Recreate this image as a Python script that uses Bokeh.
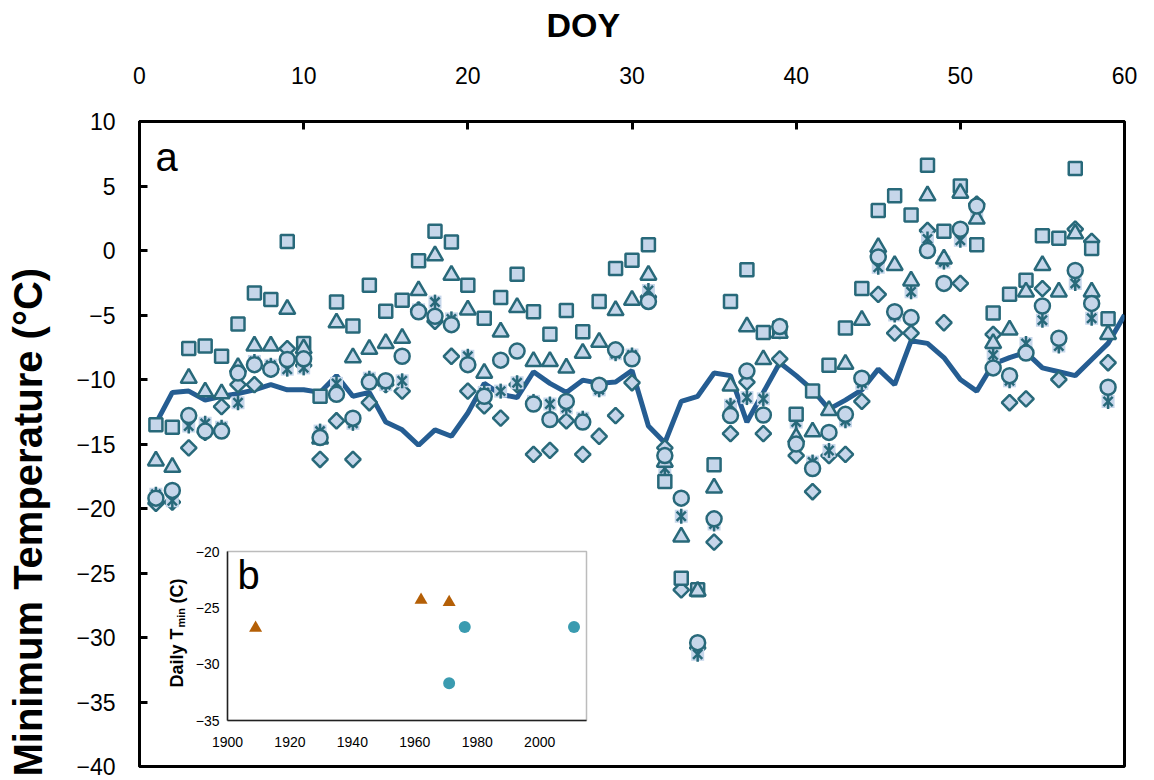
import math
from bokeh.plotting import figure
from bokeh.models import (Range1d, LinearAxis, FixedTicker, BoxAnnotation, Label, Title)
from bokeh.embed import file_html
from bokeh.resources import INLINE

# ---------------- data ----------------
doy = list(range(1, 60))
line_doy = list(range(1, 61))

mean_tmin = [-13.4, -11.0, -10.9, -11.6, -11.3, -11.1, -10.8, -10.4, -10.8, -10.8,
             -11.0, -9.7, -11.3, -11.0, -13.3, -13.9, -15.1, -13.9, -14.4, -12.6,
             -10.3, -11.15, -11.4, -9.4, -10.3, -11.0, -10.05, -10.3, -10.2, -9.3,
             -13.6, -14.9, -11.7, -11.3, -9.5, -9.7, -13.3, -11.0, -8.7, -9.7,
             -10.8, -12.3, -11.6, -10.8, -9.2, -10.4, -7.0, -7.2, -8.3, -10.0,
             -10.9, -8.8, -8.3, -7.9, -9.1, -9.4, -9.7, -8.45, -7.2, -5.0]

square_vals = [-13.5, -13.7, -7.6, -7.4, -8.2, -5.7, -3.3, -3.8, 0.7, -7.2,
               -11.3, -4.0, -5.85, -2.7, -4.7, -3.85, -0.8, 1.5, 0.65, -2.7,
               -5.25, -3.65, -1.85, -4.75, -6.5, -4.65, -6.3, -3.95, -1.4, -0.75,
               0.45, -17.9, -25.4, -26.3, -16.6, -3.95, -1.5, -6.35, -6.0, -12.7,
               -10.9, -8.9, -6.0, -2.95, 3.1, 4.25, 2.75, 6.6, 1.5, 5.0,
               0.45, -4.85, -3.4, -2.3, 1.15, 0.95, 6.35, 0.15, -5.3]

triangle_vals = [-16.3, -16.8, -9.9, -10.95, -11.1, -9.05, -7.4, -7.4, -4.55, -7.6,
                 -14.6, -5.6, -8.3, -7.65, -7.2, -6.8, -3.1, -0.4, -1.9, -4.6,
                 -9.5, -6.3, -4.4, -8.6, -8.6, -9.1, -7.95, -7.1, -4.65, -3.85,
                 -1.9, -16.4, -22.2, -26.4, -18.4, -10.5, -5.9, -8.45, -6.4, -14.5,
                 -14.05, -12.4, -8.8, -5.4, 0.25, -1.15, -2.35, 4.25, -0.65, 4.45,
                 2.45, -7.2, -6.15, -3.2, -1.15, -3.2, 1.3, -3.2, -6.5]

circle_vals = [-19.2, -18.6, -12.8, -14.0, -14.0, -9.5, -8.85, -9.2, -8.45, -8.4,
               -14.5, -11.15, -13.0, -10.2, -10.1, -8.2, -4.75, -5.1, -5.75, -8.85,
               -11.3, -8.5, -7.8, -11.9, -13.1, -11.7, -13.3, -10.45, -7.7, -8.4,
               -3.95, -15.9, -19.2, -30.4, -20.8, -12.8, -9.35, -12.75, -5.9, -15.0,
               -16.9, -14.1, -12.7, -9.9, -0.5, -4.75, -5.2, 0.0, -2.55, 1.65,
               3.45, -9.1, -9.7, -7.95, -4.3, -6.8, -1.55, -4.1, -10.6]

asterisk_vals = [-18.9, -19.4, -13.6, -13.4, -13.7, -11.8, -8.6, -8.9, -9.2, -9.1,
                 -14.0, -10.3, -13.4, -9.9, -10.4, -10.1, -4.6, -4.0, -5.3, -8.2,
                 -11.0, -10.9, -10.25, -11.7, -11.9, -12.2, -13.0, -10.8, -8.0, -8.1,
                 -3.1, -16.9, -20.6, -31.3, -21.2, -12.0, -11.4, -11.5, -6.3, -13.3,
                 -16.4, -15.5, -13.2, -10.3, -1.3, -5.0, -3.2, 0.9, -0.9, 0.8,
                 2.9, -8.1, -10.1, -7.2, -5.4, -7.4, -2.55, -5.25, -11.7]

diamond_vals = [-19.6, -19.5, -15.3, -14.1, -12.1, -10.4, -10.4, -9.2, -7.6, -8.9,
                -16.2, -13.2, -16.2, -11.8, -10.4, -10.9, -4.6, -5.5, -8.2, -10.9,
                -12.05, -13.0, -10.4, -15.8, -15.5, -13.2, -15.8, -14.4, -12.8, -10.25,
                -3.6, -15.3, -26.3, -30.8, -22.6, -14.2, -10.2, -14.2, -8.4, -15.9,
                -18.7, -15.9, -15.8, -11.7, -3.4, -6.4, -6.4, 1.55, -5.6, -2.55,
                3.6, -6.5, -11.8, -11.5, -2.95, -10.0, 1.65, 0.7, -8.7]

x_ticks = [0, 10, 20, 30, 40, 50, 60]
y_ticks = [-40, -35, -30, -25, -20, -15, -10, -5, 0, 5, 10]

# inset (b)
b_tri_years = [1909, 1962, 1971]
b_tri_vals = [-26.8, -24.3, -24.5]
b_circ_years = [1976, 1971, 2011]
b_circ_vals = [-26.7, -31.7, -26.7]
b_x_ticks = [1900, 1920, 1940, 1960, 1980, 2000]
b_y_ticks = [-35, -30, -25, -20]

# ---------------- layout helpers (pixel placement of frame & annotations) ----------------
W, H = 1154, 780
FR_L, FR_R, FR_T, FR_B = 139, 1124, 121, 766
X0, X1, Y0, Y1 = 0, 60, -40, 10


def px2x(px):
    return X0 + (px - FR_L) / (FR_R - FR_L) * (X1 - X0)


def py2y(py):
    return Y1 - (py - FR_T) / (FR_B - FR_T) * (Y1 - Y0)


FONT = "Liberation Sans"
FILL = "#c6d6ea"
EDGE = "#28697a"
LINE = "#255d92"

p = figure(width=W, height=H, x_range=Range1d(X0, X1), y_range=Range1d(Y0, Y1),
           x_axis_location="above", output_backend="svg", toolbar_location=None,
           min_border_left=FR_L, min_border_right=W - FR_R, min_border_top=FR_T,
           min_border_bottom=H - FR_B, background_fill_color="white",
           border_fill_color="white")
p.xgrid.visible = False
p.ygrid.visible = False
p.outline_line_color = "black"
p.outline_line_width = 3

for ax, ticks in ((p.xaxis[0], x_ticks), (p.yaxis[0], y_ticks)):
    ax.ticker = FixedTicker(ticks=ticks)
    ax.major_tick_in = 8
    ax.major_tick_out = 0
    ax.minor_tick_line_color = None
    ax.major_tick_line_width = 3
    ax.axis_line_width = 3
    ax.major_label_text_font = FONT
    ax.major_label_text_font_size = "23px"
    ax.major_label_text_color = "black"
    # blank spacer label: pushes the bold titles outward
    ax.axis_label = " "
    ax.axis_label_text_font_size = "1px"
p.xaxis[0].major_label_standoff = 38
p.xaxis[0].axis_label_standoff = 15
p.yaxis[0].major_label_standoff = 24
p.yaxis[0].axis_label_standoff = 18

# axis titles (placed off-centre, as in the reference)
p.add_layout(Title(text="DOY", align="left", offset=546 - FR_L, text_font=FONT,
                   text_font_style="bold", text_font_size="34px", text_color="black",
                   standoff=2), "above")
p.add_layout(Title(text="Minimum Temperature (°C)", align="left", offset=FR_B - 776,
                   text_font=FONT, text_font_style="bold", text_font_size="40px",
                   text_color="black", standoff=4), "left")

# main series
p.line(line_doy, mean_tmin, line_color=LINE, line_width=5)
p.scatter(doy, diamond_vals, marker="square", angle=math.pi / 4, size=11,
          fill_color=FILL, line_color=EDGE, line_width=2.5)
p.scatter(doy, asterisk_vals, marker="square", size=13, fill_color=FILL,
          line_color=None)
p.scatter(doy, asterisk_vals, marker="x", size=13, line_color=EDGE, line_width=2.5)
p.scatter(doy, asterisk_vals, marker="dash", angle=math.pi / 2, size=15,
          line_color=EDGE, line_width=2.5)
p.scatter(doy, square_vals, marker="square", size=13, fill_color=FILL,
          line_color=EDGE, line_width=2.5)
p.scatter(doy, triangle_vals, marker="triangle", size=16, fill_color=FILL,
          line_color=EDGE, line_width=2.5)
p.scatter(doy, circle_vals, marker="circle", size=15, fill_color=FILL,
          line_color=EDGE, line_width=2.5)

p.add_layout(Label(x=px2x(155), y=py2y(156), text="a", text_font=FONT,
                   text_font_size="40px", text_color="black",
                   text_baseline="alphabetic"))

# ---------------- inset (b) placed inside the main frame ----------------
box_x = (px2x(227), px2x(586))
box_y = (py2y(720), py2y(551))
bx_rng = (1900, 2015)
by_rng = (-35, -20)
sx = (bx_rng[1] - bx_rng[0]) / (box_x[1] - box_x[0])
sy = (by_rng[1] - by_rng[0]) / (box_y[1] - box_y[0])
p.extra_x_ranges = {"ix": Range1d(bx_rng[0] - (box_x[0] - X0) * sx,
                                  bx_rng[1] + (X1 - box_x[1]) * sx)}
p.extra_y_ranges = {"iy": Range1d(by_rng[0] - (box_y[0] - Y0) * sy,
                                  by_rng[1] + (Y1 - box_y[1]) * sy)}


def py2iy(py):
    return by_rng[1] - (py - 551) / (720 - 551) * (by_rng[1] - by_rng[0])


def px2ix(px):
    return bx_rng[0] + (px - 227) / (586 - 227) * (bx_rng[1] - bx_rng[0])


p.add_layout(BoxAnnotation(left=bx_rng[0], right=bx_rng[1], bottom=by_rng[0], top=by_rng[1],
                           x_range_name="ix", y_range_name="iy",
                           fill_color=None, line_color="#222222", line_width=1.5))

bax = LinearAxis(x_range_name="ix", y_range_name="iy", fixed_location=by_rng[0],
                 bounds=bx_rng, ticker=FixedTicker(ticks=b_x_ticks))
lax = LinearAxis(x_range_name="ix", y_range_name="iy", fixed_location=bx_rng[0],
                 bounds=by_rng, ticker=FixedTicker(ticks=b_y_ticks))
for ax in (bax, lax):
    ax.major_tick_in = 0
    ax.major_tick_out = 0
    ax.minor_tick_line_color = None
    ax.axis_line_width = 1.5
    ax.axis_line_color = "#222222"
    ax.major_label_text_font = FONT
    ax.major_label_text_font_size = "14px"
    ax.major_label_text_color = "black"
bax.major_label_standoff = 16
lax.major_label_standoff = 8
p.add_layout(bax, "below")
p.add_layout(lax, "left")

p.scatter(b_tri_years, b_tri_vals, x_range_name="ix", y_range_name="iy",
          marker="triangle", size=13, fill_color="#b45f06", line_color=None)
p.scatter(b_circ_years, b_circ_vals, x_range_name="ix", y_range_name="iy",
          marker="circle", size=12, fill_color="#3a9bb0", line_color=None)

lab_kw = dict(x_range_name="ix", y_range_name="iy", angle=math.pi / 2,
              text_font=FONT, text_font_style="bold", text_color="black",
              text_align="left", text_baseline="middle")
p.add_layout(Label(x=px2ix(176), y=py2iy(687), text="Daily T", text_font_size="18px", **lab_kw))
p.add_layout(Label(x=px2ix(180), y=py2iy(627), text="min", text_font_size="11px", **lab_kw))
p.add_layout(Label(x=px2ix(176), y=py2iy(603), text="(C)", text_font_size="18px", **lab_kw))
p.add_layout(Label(x=px2x(237), y=py2y(574), text="b", text_font=FONT, text_font_size="40px",
                   text_color="black", text_baseline="alphabetic"))

open("out.html", "w").write(file_html(p, INLINE))
